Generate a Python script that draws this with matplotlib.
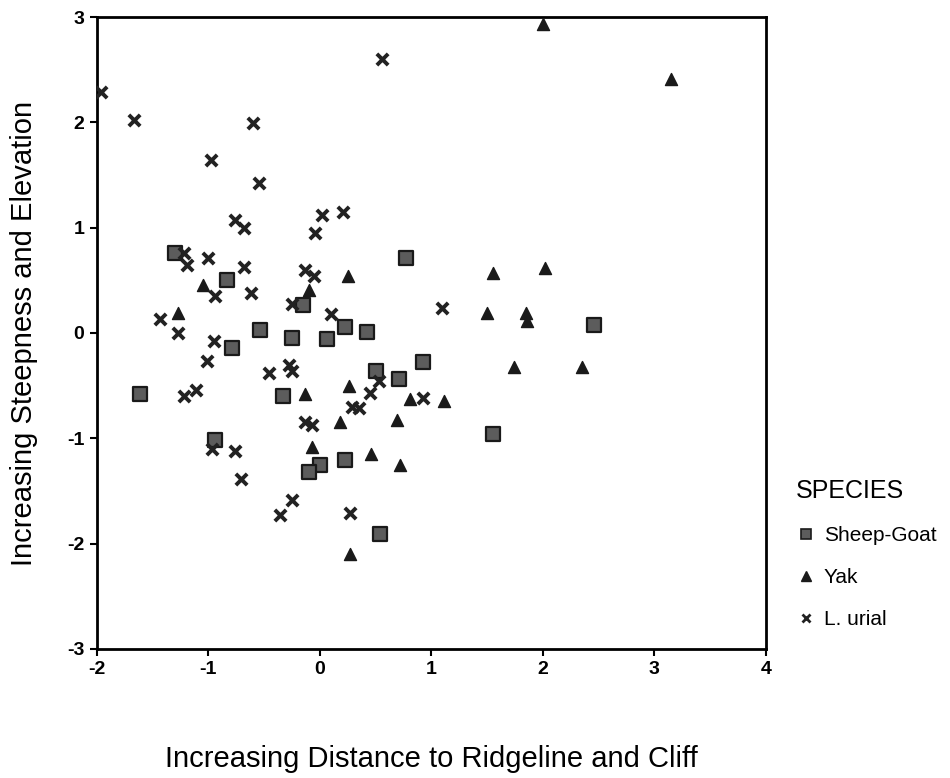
import matplotlib
matplotlib.use('Agg')
import matplotlib.pyplot as plt
from matplotlib.lines import Line2D

plt.rcParams['font.family'] = ['Liberation Sans', 'DejaVu Sans']
plt.rcParams['axes.unicode_minus'] = False

# Sheep-Goat
sg_x = [-1.30, -0.83, 0.77, -0.15, 0.23, 0.42, -0.54, -0.25, 0.06, -0.79, -1.61,
        -0.33, 0.50, 0.71, 0.93, -0.94, 0.00, -0.10, 0.23, 0.54, 2.46, 1.55]
sg_y = [0.76, 0.50, 0.71, 0.27, 0.06, 0.01, 0.03, -0.05, -0.06, -0.14, -0.58,
        -0.60, -0.36, -0.44, -0.28, -1.02, -1.25, -1.32, -1.21, -1.91, 0.08, -0.96]

# Yak
yak_x = [-1.05, -1.27, -0.10, 0.25, 2.00, 3.15, 1.55, 2.02, 1.50, 1.85, 1.86, 1.74,
         2.35, 1.11, -0.13, 0.26, 0.81, 0.18, 0.69, -0.07, 0.46, 0.72, 0.27]
yak_y = [0.46, 0.19, 0.41, 0.54, 2.93, 2.41, 0.57, 0.62, 0.19, 0.19, 0.11, -0.32,
         -0.32, -0.65, -0.58, -0.50, -0.63, -0.85, -0.83, -1.08, -1.15, -1.25, -2.10]

# L. urial
lu_x = [-1.96, -1.67, 0.56, -0.60, -0.98, -0.55, -0.76, -0.68, 0.02, 0.21, -0.04,
        -1.22, -1.19, -1.00, -0.68, -0.13, -0.05, -0.94, -0.62, -0.25, 0.10, -1.43,
        -1.27, -0.95, 1.10, -1.01, -0.46, -0.28, -0.25, -1.22, -1.11, 0.53, 0.45,
        0.29, 0.35, 0.93, -0.13, -0.07, -0.97, -0.76, -0.71, -0.25, -0.36, 0.27]
lu_y = [2.29, 2.02, 2.60, 1.99, 1.64, 1.42, 1.07, 1.00, 1.12, 1.15, 0.95,
        0.76, 0.65, 0.71, 0.63, 0.60, 0.54, 0.35, 0.38, 0.28, 0.18, 0.13,
        0.00, -0.08, 0.24, -0.27, -0.38, -0.30, -0.36, -0.60, -0.54, -0.46, -0.57,
        -0.70, -0.71, -0.62, -0.85, -0.87, -1.10, -1.12, -1.39, -1.59, -1.73, -1.71]

species = ['Sheep-Goat', 'Yak', 'L. urial']

fig = plt.figure(figsize=(9.5, 7.78), dpi=100)
ax = fig.add_axes([0.102, 0.166, 0.704, 0.812])

ax.scatter(sg_x, sg_y, marker='s', s=90, facecolor='#5c5c5c', edgecolor='#1a1a1a',
           linewidths=1.6, zorder=3)
ax.scatter(yak_x, yak_y, marker='^', s=75, facecolor='#1a1a1a', edgecolor='#1a1a1a',
           linewidths=1, zorder=3)
ax.scatter(lu_x, lu_y, marker='x', s=66, color='#222222', linewidths=2.8, zorder=3)

ax.set_xlim(-2, 4)
ax.set_ylim(-3, 3)
ax.set_xticks(range(-2, 5))
ax.set_yticks(range(-3, 4))
ax.tick_params(direction='out', length=5, width=1.5, labelsize=14, pad=4)
for lab in ax.get_xticklabels() + ax.get_yticklabels():
    lab.set_fontweight('bold')
for sp in ax.spines.values():
    sp.set_linewidth(2)

ax.set_xlabel('Increasing Distance to Ridgeline and Cliff', fontsize=21)
ax.set_ylabel('Increasing Steepness and Elevation', fontsize=21)
ax.xaxis.set_label_coords(0.5, -0.152)
ax.yaxis.set_label_coords(-0.088, 0.5)

handles = [
    Line2D([], [], linestyle='none', marker='s', markersize=7, markerfacecolor='#5c5c5c',
           markeredgecolor='#1a1a1a', markeredgewidth=1.2),
    Line2D([], [], linestyle='none', marker='^', markersize=7, markerfacecolor='#1a1a1a',
           markeredgecolor='#1a1a1a'),
    Line2D([], [], linestyle='none', marker='x', markersize=6, color='#222222',
           markeredgewidth=2),
]
leg = fig.legend(handles, species, title='SPECIES', loc='upper left',
                 bbox_to_anchor=(0.818, 0.408), frameon=False, fontsize=15,
                 title_fontsize=18, labelspacing=1.1, handletextpad=0.35,
                 handlelength=1.0)
leg._legend_box.align = 'left'

fig.savefig('out.png', dpi=100)
